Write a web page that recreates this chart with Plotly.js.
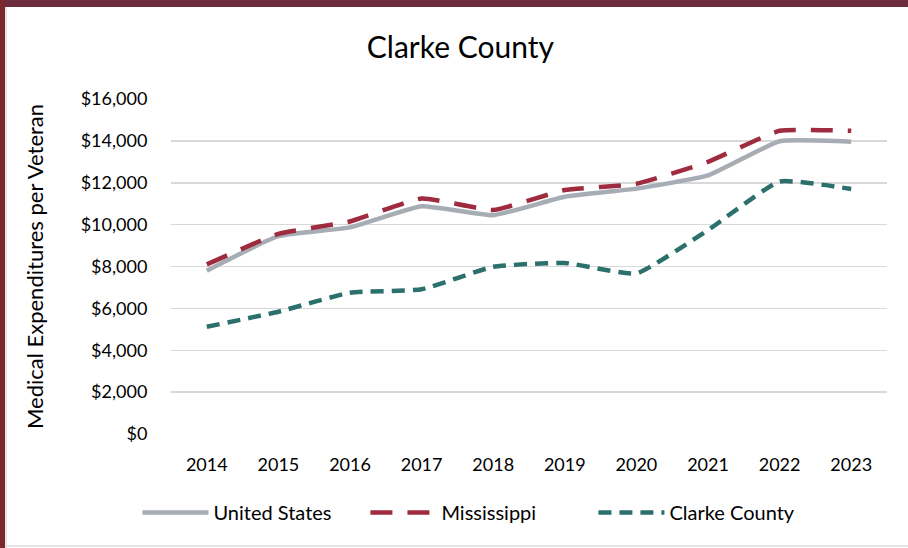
<!DOCTYPE html>
<html>
<head>
<meta charset="utf-8">
<script src="https://cdn.plot.ly/plotly-3.0.1.min.js"></script>
<style>
  html, body { margin: 0; padding: 0; background: #ffffff; }
  #wrap { position: relative; width: 908px; height: 548px; overflow: hidden; }
  #chart { position: absolute; left: 0; top: 0; width: 908px; height: 548px; }
  #topbar { position: absolute; left: 0; top: 0; width: 908px; height: 7px; background: #6D2B3E; }
  #leftbar { position: absolute; left: 0; top: 0; width: 5px; height: 548px; background: #7A2A2C; }
  #leftline { position: absolute; left: 5px; top: 7px; width: 2px; height: 541px; background: #E6E6E6; }
  #bottomline { position: absolute; left: 5px; top: 545px; width: 903px; height: 2px; background: #E6E6E6; }
</style>
</head>
<body>
<div id="wrap">
  <div id="chart"></div>
  <div id="topbar"></div>
  <div id="leftbar"></div>
  <div id="leftline"></div>
  <div id="bottomline"></div>
</div>
<script>
const years = ['2014','2015','2016','2017','2018','2019','2020','2021','2022','2023'];
const unitedStates = [7800, 9450, 9870, 10880, 10450, 11330, 11720, 12350, 13980, 13960];
const mississippi  = [8100, 9560, 10150, 11250, 10700, 11650, 11950, 13000, 14480, 14480];
const clarkeCounty = [5120, 5840, 6750, 6910, 7990, 8170, 7670, 9740, 12060, 11700];
const yTickVals = [0, 2000, 4000, 6000, 8000, 10000, 12000, 14000, 16000];
const yTickText = ['$0', '$2,000', '$4,000', '$6,000', '$8,000', '$10,000', '$12,000', '$14,000', '$16,000'];

const font = 'Lato, "Open Sans", "Liberation Sans", sans-serif';

const traces = [
  { x: years, y: unitedStates, name: 'United States', type: 'scatter', mode: 'lines',
    line: { color: '#A7ADB5', width: 4.5, shape: 'spline', smoothing: 0.4 } },
  { x: years, y: mississippi, name: 'Mississippi', type: 'scatter', mode: 'lines',
    line: { color: '#9E2B3E', width: 4.5, dash: '22px,15px', shape: 'spline', smoothing: 0.4 } },
  { x: years, y: clarkeCounty, name: 'Clarke County', type: 'scatter', mode: 'lines',
    line: { color: '#2C706C', width: 4.5, dash: '13px,8px', shape: 'spline', smoothing: 0.4 } }
];

const layout = {
  width: 908, height: 548,
  margin: { l: 171, r: 21, t: 99, b: 114 },
  paper_bgcolor: '#ffffff', plot_bgcolor: '#ffffff',
  font: { family: font, color: '#000000' },
  showlegend: true,
  title: { text: 'Clarke County', font: { family: font, size: 30, color: '#000000' },
           x: 0.507, xref: 'container', y: 0.914, yref: 'container', yanchor: 'middle', xanchor: 'center' },
  xaxis: {
    type: 'category', showgrid: false, zeroline: false, showline: false,
    ticks: 'outside', ticklen: 14, tickcolor: 'rgba(0,0,0,0)',
    tickfont: { family: font, size: 18, color: '#000000' },
    range: [-0.5, 9.5], fixedrange: true
  },
  yaxis: {
    range: [0, 16000], tickvals: yTickVals, ticktext: yTickText,
    showgrid: true, gridcolor: '#D9D9D9', gridwidth: 1.5, zeroline: false, showline: false,
    ticks: 'outside', ticklen: 19, tickcolor: 'rgba(0,0,0,0)',
    tickfont: { family: font, size: 18, color: '#000000' },
    title: { text: 'Medical Expenditures per Veteran', font: { family: font, size: 22, color: '#000000' }, standoff: 30 },
    fixedrange: true
  },
  legend: {
    orientation: 'h', x: 0.528, xref: 'container', xanchor: 'center',
    y: 0.065, yref: 'container', yanchor: 'middle',
    font: { family: font, size: 20, color: '#000000' },
    bgcolor: 'rgba(0,0,0,0)', itemwidth: 66, traceorder: 'normal',
    entrywidth: 147, entrywidthmode: 'pixels'
  }
};

Plotly.newPlot('chart', traces, layout, { staticPlot: true, displayModeBar: false });
</script>
</body>
</html>
